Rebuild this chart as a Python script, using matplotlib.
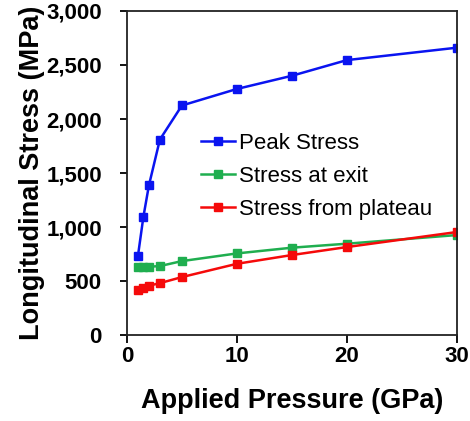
import matplotlib
matplotlib.use('Agg')
import matplotlib.pyplot as plt
from matplotlib.ticker import FuncFormatter

plt.rcParams['font.family'] = ['Liberation Sans', 'DejaVu Sans']

# applied pressure (GPa) and measured stresses (MPa)
pressure = [1, 1.5, 2, 3, 5, 10, 15, 20, 30]
peak_stress = [730, 1095, 1385, 1810, 2125, 2278, 2400, 2545, 2660]
exit_stress = [633, 633, 633, 639, 685, 756, 809, 846, 926]
plateau_stress = [417, 438, 457, 481, 537, 660, 741, 815, 954]

series_names = ['Peak Stress', 'Stress at exit', 'Stress from plateau']
series_colors = ['#0a14f0', '#1fae4f', '#f50a0a']

fig = plt.figure(figsize=(4.7, 4.21), dpi=100)
ax = fig.add_axes([0.270, 0.204, 0.702, 0.770])

for vals, name, col in zip([peak_stress, exit_stress, plateau_stress], series_names, series_colors):
    ax.plot(pressure, vals, color=col, lw=1.8, marker='s', ms=6, mec=col, mfc=col, label=name)

ax.set_xlim(0, 30)
ax.set_ylim(0, 3000)
ax.set_xticks([0, 10, 20, 30])
ax.set_yticks(range(0, 3001, 500))
ax.yaxis.set_major_formatter(FuncFormatter(lambda v, p: '{:,.0f}'.format(v)))

for s in ax.spines.values():
    s.set_linewidth(1.3)
    s.set_color('#222222')

ax.tick_params(axis='x', direction='out', length=6, width=1.3, pad=2, labelsize=16)
ax.tick_params(axis='y', direction='out', length=5, width=1.3, pad=13, labelsize=16)
for lab in ax.get_xticklabels() + ax.get_yticklabels():
    lab.set_fontweight('bold')

ax.set_xlabel('Applied Pressure (GPa)', fontsize=19.5, fontweight='bold', labelpad=15)
ax.set_ylabel('Longitudinal Stress (MPa)', fontsize=19.5, fontweight='bold', labelpad=1)

ax.legend(loc='upper left', bbox_to_anchor=(0.226, 0.625), frameon=False, fontsize=16,
          handlelength=1.5, handletextpad=0.2, labelspacing=0.55, borderpad=0, borderaxespad=0)

fig.savefig('out.png', dpi=100)
